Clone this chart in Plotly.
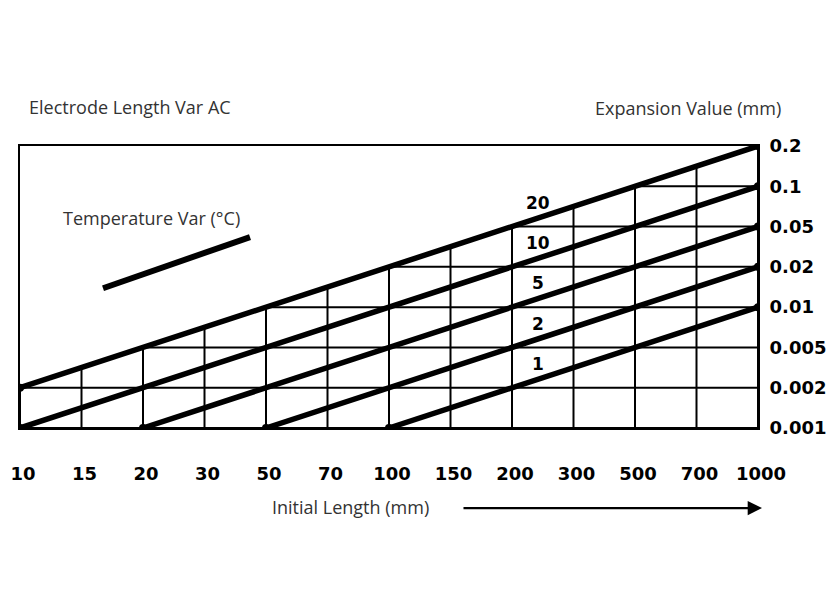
import plotly.graph_objects as go

# ---- data ----
length_ticks = ["10", "15", "20", "30", "50", "70", "100", "150", "200", "300", "500", "700", "1000"]
expansion_ticks = ["0.001", "0.002", "0.005", "0.01", "0.02", "0.05", "0.1", "0.2"]
temperatures = [20, 10, 5, 2, 1]
start_length = ["10", "10", "20", "50", "100"]
start_expansion = ["0.002", "0.001", "0.001", "0.001", "0.001"]
end_length = ["1000", "1000", "1000", "1000", "1000"]
end_expansion = ["0.2", "0.1", "0.05", "0.02", "0.01"]

xi = {v: i for i, v in enumerate(length_ticks)}
yi = {v: i for i, v in enumerate(expansion_ticks)}
nx = len(length_ticks) - 1
ny = len(expansion_ticks) - 1

FONT_TXT = "Open Sans"
FONT_NUM = "DejaVu Sans"

fig = go.Figure()

# lines (index space)
lines = []
for t, sl, se, el, ee in zip(temperatures, start_length, start_expansion, end_length, end_expansion):
    x0, y0, x1, y1 = xi[sl], yi[se], xi[el], yi[ee]
    lines.append((t, x0, y0, x1, y1))

# top line (highest temperature) bounds the grid
_, tx0, ty0, tx1, ty1 = lines[0]
slope = (ty1 - ty0) / (tx1 - tx0)

def top_y(x):
    return ty0 + (x - tx0) * slope

gx, gy = [], []
for i in range(nx + 1):
    gx += [i, i, None]
    gy += [0, min(ny, top_y(i)), None]
for j in range(ny + 1):
    xs = max(0, tx0 + (j - ty0) / slope) if j > ty0 else 0
    gx += [xs, nx, None]
    gy += [j, j, None]
fig.add_trace(go.Scatter(x=gx, y=gy, mode="lines", line=dict(color="black", width=2),
                         hoverinfo="skip", showlegend=False))

for t, x0, y0, x1, y1 in lines:
    fig.add_trace(go.Scatter(x=[x0, x1], y=[y0, y1], mode="lines+markers",
                             line=dict(color="black", width=5.5),
                             marker=dict(color="black", size=8),
                             name=f"{t} °C", showlegend=False))
    lx = 8.42
    ly = y0 + (lx - x0) * (y1 - y0) / (x1 - x0)
    fig.add_annotation(x=lx, y=ly + 0.38, text=str(t), showarrow=False,
                       font=dict(family=FONT_NUM, size=17, color="black", weight="bold"))

# legend sample line
fig.add_shape(type="line", x0=1.35, y0=3.47, x1=3.74, y1=4.74, xref="x", yref="y",
              line=dict(color="black", width=6))
fig.add_annotation(x=0.667, y=5.21, text="Temperature Var (°C)", showarrow=False,
                   xanchor="left", yanchor="middle",
                   font=dict(family=FONT_TXT, size=18, color="#333"))

fig.add_annotation(xref="paper", yref="paper", x=0.0095, y=1.138, text="Electrode Length Var AC",
                   showarrow=False, xanchor="left", yanchor="middle",
                   font=dict(family=FONT_TXT, size=18, color="#333"))
fig.add_annotation(xref="paper", yref="paper", x=1.034, y=1.135, text="Expansion Value (mm)",
                   showarrow=False, xanchor="right", yanchor="middle",
                   font=dict(family=FONT_TXT, size=18, color="#333"))
fig.add_annotation(xref="paper", yref="paper", x=0.4485, y=-0.280, text="Initial Length (mm)",
                   showarrow=False, xanchor="center", yanchor="middle",
                   font=dict(family=FONT_TXT, size=18, color="#333"))
# arrow
fig.add_annotation(xref="paper", yref="paper", x=1.0054, y=-0.284, ax=-300, ay=0,
                   text="", showarrow=True, arrowhead=2, arrowsize=1.3, arrowwidth=2.2,
                   arrowcolor="black")

fig.update_xaxes(range=[0, nx], tickmode="array", tickvals=list(range(nx + 1)),
                 ticktext=length_ticks, showgrid=False, zeroline=False, automargin=False,
                 showline=True, mirror=True, linecolor="black", linewidth=2,
                 ticks="", ticklabelstandoff=28, ticklabelshift=3,
                 tickfont=dict(family=FONT_NUM, size=18, color="black", weight="bold"))
fig.update_yaxes(range=[0, ny], tickmode="array", tickvals=list(range(ny + 1)),
                 ticktext=expansion_ticks, side="right", showgrid=False, zeroline=False,
                 automargin=False,
                 showline=True, mirror=True, linecolor="black", linewidth=2,
                 ticks="", ticklabelstandoff=6,
                 tickfont=dict(family=FONT_NUM, size=18, color="black", weight="bold"))

fig.update_layout(width=836, height=600, margin=dict(l=20, r=78, t=146, b=172),
                  plot_bgcolor="white", paper_bgcolor="white", showlegend=False)

fig.write_html("out.html")
